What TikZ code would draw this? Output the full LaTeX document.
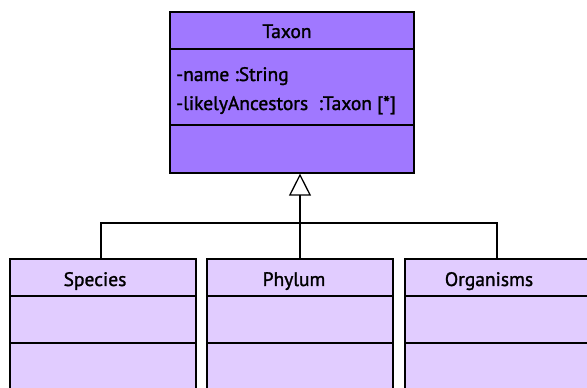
\documentclass[tikz,border=0pt]{standalone}
\usepackage{fontspec}
\setmainfont{PT Sans}
\newfontfamily\umlfont[RawFeature={embolden=1.4}]{PT Sans}
\usetikzlibrary{arrows.meta}
\definecolor{classdark}{RGB}{160,120,255}
\definecolor{classlight}{RGB}{225,204,255}
\tikzset{
  x=1pt, y=1pt,
  classbox/.style={draw=black, line width=1.6pt, rectangle, inner sep=0pt, anchor=north west},
  divider/.style={line width=1.6pt},
  ctitle/.style={font=\umlfont\fontsize{19.5}{22}\selectfont, inner sep=0pt, anchor=base},
  attr/.style={font=\umlfont\fontsize{19.5}{22}\selectfont, inner sep=0pt, anchor=base west},
  link/.style={line width=1.3pt},
  genarrow/.style={line width=1.3pt, -{Triangle[open, length=22pt, width=22pt, line width=1.3pt]}},
}
\begin{document}
\begin{tikzpicture}
\useasboundingbox (0,0) rectangle (587,388);
\clip (0,0) rectangle (587,388);

% superclass
\node[classbox, fill=classdark, minimum width=244pt, minimum height=161pt] (taxon) at (169,377) {};
\draw[divider] (169,339) -- (413,339);
\draw[divider] (169,263) -- (413,263);
\node[ctitle] (taxonname) at (287,350) {Taxon};
\node[attr] (a1) at (176,307) {-name :String};
\node[attr] (a2) at (176,278) {-likelyAncestors\ \ :Taxon [*]};

% subclasses
\node[classbox, fill=classlight, minimum width=186pt, minimum height=150pt] (species) at (9,130) {};
\node[classbox, fill=classlight, minimum width=186pt, minimum height=150pt] (phylum) at (206,130) {};
\node[classbox, fill=classlight, minimum width=186pt, minimum height=150pt] (organisms) at (404,130) {};
\foreach \bx in {species, phylum, organisms} {
  \draw[divider] (\bx.north west |- 0,92) -- (\bx.north east |- 0,92);
  \draw[divider] (\bx.north west |- 0,45) -- (\bx.north east |- 0,45);
}
\node[ctitle] (speciesname) at (95,102) {Species};
\node[ctitle] (phylumname) at (294,102) {Phylum};
\node[ctitle] (organismsname) at (489,102) {Organisms};

% generalisation
\coordinate (jn) at (300,165);
\coordinate (spt) at (101,130);
\coordinate (ort) at (497,130);
\coordinate (pht) at (300,130);
\draw[link] (spt) |- (jn) -| (ort);
\draw[genarrow] (pht) -- (taxon.south -| pht);
\end{tikzpicture}
\end{document}
